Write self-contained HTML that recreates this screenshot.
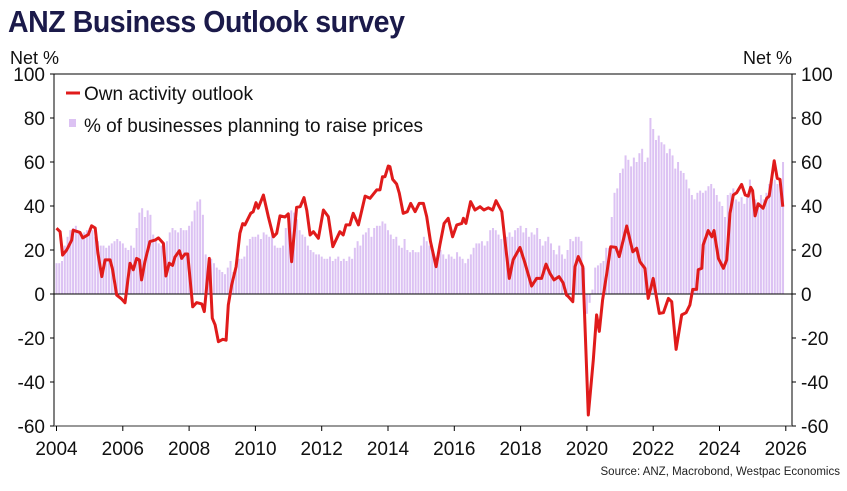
<!DOCTYPE html>
<html><head><meta charset="utf-8">
<style>
body{margin:0;background:#fff;width:847px;height:491px;overflow:hidden;font-family:"Liberation Sans",sans-serif}
#title{position:absolute;left:8px;top:4px;font-family:"Liberation Sans Narrow","Liberation Sans",sans-serif;font-weight:bold;font-size:31px;color:#1b1a4a;letter-spacing:-0.5px;transform:scaleX(0.92);transform-origin:left}
</style></head>
<body>
<div id="title">ANZ Business Outlook survey</div>
<svg id="chart" width="847" height="491" style="position:absolute;left:0;top:0"></svg>
<script>
const yTicks=[100,80,60,40,20,0,-20,-40,-60];
const xTickYears=[2004,2006,2008,2010,2012,2014,2016,2018,2020,2022,2024,2026];
const priceBars=[
14,14,15,22,26,29,30,31,28,27,28,29,
30,29,26,24,22,22,21,22,23,24,25,24,
23,21,20,22,21,30,37,39,35,38,36,27,
25,23,22,23,24,28,30,29,28,30,29,29,
31,33,38,42,43,36,18,15,16,14,12,11,
10,9,12,15,10,14,16,16,17,22,25,26,
26,27,25,28,27,26,28,22,21,21,22,30,
32,38,37,34,29,27,26,22,20,19,18,18,
17,16,16,17,15,16,17,15,16,15,17,16,
21,24,22,27,28,30,26,30,31,31,33,32,
29,27,25,26,22,21,25,20,19,20,19,19,
22,26,24,22,19,17,16,20,18,16,18,17,
16,19,17,16,14,16,18,21,23,23,24,22,
24,29,30,29,27,25,29,26,28,26,29,30,
31,28,30,26,28,27,30,25,22,24,26,23,
20,18,22,18,16,20,25,24,26,26,24,12,
-9,-4,2,12,13,14,15,21,21,35,46,48,
55,57,63,61,58,62,60,64,66,60,62,80,
75,70,72,69,68,64,66,63,57,60,56,55,
52,48,45,43,46,47,46,47,49,50,48,45,
42,40,35,45,46,48,43,42,44,41,44,52,
46,43,41,45,43,46,50,51,52,50,52,60];
const lineMonths=[0,1.3,2.2,3.7,5.5,6,8.5,9.5,11.5,12.7,14,15,16.4,17.6,19.4,20.3,21.8,23.6,24.8,26.6,27.8,29,30,30.8,32,33.8,35.7,36.9,38.7,39.6,40.8,42,42.9,44.5,45.3,46.5,47.5,49.3,50.7,52.6,53.5,55.3,56.4,57.4,58.6,60.2,61.4,62.2,63.4,65,66.4,67.4,68.2,70.3,71.2,72.2,73,74.9,76.7,78.5,79.7,80.9,82.7,83.9,85.1,86.9,88.2,89.6,90.6,91.8,93,94.8,96.6,98.4,100,102.6,103.8,104.8,106.2,107.4,109.3,111.7,113.5,115.9,117.1,118,118.9,120.1,120.7,121.7,123.1,124.1,125.5,127,128.2,129.8,131.3,132.8,134,135.4,137.4,138.8,140.3,141.8,143.4,144.9,146.7,147.3,148.2,149.9,151.5,153.3,154.7,156.3,157.9,159.1,161.2,162.3,163.9,165.3,167.8,169.6,172,173.8,175.6,177.2,178.6,180.1,181.9,183.4,184.6,185.3,186.9,187.7,188.9,190.5,192.5,194.3,195.5,196.5,197.7,199.2,200.6,202.5,203.7,206.4,208.6,210,211.2,213,214.2,216,218.2,219.7,221.5,222.7,224.3,226.3,227.9,229.3,230.3,231.7,232.3,233.6,234.1,235.9,237.2,238,239.6,241.4,242.6,243.8,245,246.2,248,249.3,250.4,251.3,252,252.9,254,255.8,257.1,258,259.8,260.9,261.9,262.9];
const lineValues=[29.9,28.3,17.7,20,24.5,29,28,25.5,27,31,30,18.6,7.9,15.5,15.5,11,-0.5,-2.3,-4,14,11,16.2,15.5,6.4,14.7,23.8,24.5,25.5,23,8.2,14,13,16.8,19.7,16.2,18.2,18.2,-5.8,-3.9,-4.5,-8,16.2,-11,-14,-21.7,-20.6,-21,-5,4,12.4,27.6,32,31.4,36.7,37.4,41.5,39,45,35,26,27.6,35.5,35,36.4,14.7,39.4,39.7,43.8,38,26.8,28.3,25.3,38.2,35.2,21.5,28.3,26.8,31.4,31.4,36.7,31.4,44.5,43.5,47.3,47.3,53.3,53.3,58.2,57.9,52.1,50,45.8,36.7,37.4,41.2,37.4,41.2,41.2,35.2,23.8,12.4,22.3,32.1,34.4,26,31.4,32.1,34.4,32.1,42,38.2,39.7,38.2,39.2,38.2,42.4,37.4,24.5,7.1,15.5,21.2,14,3.6,7.1,7.1,13.6,9.4,6.4,7.9,5.1,-0.5,-1.2,-3.5,12.4,17,12.4,-55,-30,-9.5,-17,-2.7,9.4,21.5,21.2,17,30.9,19.2,20.8,14.7,11.7,-2,7.1,-8.8,-8.5,-2,-3.5,-25.2,-9.5,-8.5,-5,2.1,2.1,11,11.7,22.3,28.8,26,28.8,16.2,11.7,15.5,36.7,45,46,49.8,45,44.5,48.5,47,35.5,41,39,43.5,44.5,60.6,52.6,52.1,39.7];

const NS='http://www.w3.org/2000/svg';
const svg=document.getElementById('chart');
const L=54,R=792,T=74,B=426;
const x0=56.5, perMonth=66.3/24;
function xScale(m){return x0+m*perMonth;}
function yScale(v){return 294-v*2.2;}
function mk(tag,attrs,parent){const e=document.createElementNS(NS,tag);for(const k in attrs)e.setAttribute(k,attrs[k]);(parent||svg).appendChild(e);return e;}

// bars
const gb=mk('g',{});


priceBars.forEach((v,i)=>{
  const x=xScale(i), y0=yScale(0), y1=yScale(v);
  const r=mk('rect',{x:x-1,y:Math.min(y0,y1),width:2,height:Math.abs(y1-y0),fill:'#dcc2f3'},gb);
  
  
});
// zero line
const zl=mk('line',{x1:L,x2:R,y1:yScale(0),y2:yScale(0),stroke:'#000','stroke-width':1});


// activity line
const pts=lineMonths.map((m,i)=>xScale(m).toFixed(1)+','+yScale(lineValues[i]).toFixed(1)).join(' ');
const pl=mk('polyline',{points:pts,fill:'none',stroke:'#e01b1b','stroke-width':3,'stroke-linejoin':'round'});


// frame
const fr=mk('path',{d:`M${L},${B}V${T}H${R}V${B}`,fill:'none',stroke:'#000','stroke-width':1});


const xa=mk('line',{x1:L,x2:R,y1:B,y2:B,stroke:'#777','stroke-width':1.5});


// y ticks
yTicks.forEach(v=>{
  const y=yScale(v);
  mk('line',{x1:L-4,x2:L,y1:y,y2:y,stroke:'#000'});
  mk('line',{x1:R,x2:R+4,y1:y,y2:y,stroke:'#000'});
  const t1=mk('text',{x:L-9,y:y+7,'text-anchor':'end','font-size':19,fill:'#111'});
  t1.textContent=v;
  
  
  const t2=mk('text',{x:R+9,y:y+7,'text-anchor':'start','font-size':19,fill:'#111'});
  t2.textContent=v;
  
  
});
xTickYears.forEach(yr=>{
  const x=xScale((yr-2004)*12);
  mk('line',{x1:x,x2:x,y1:B,y2:B+5,stroke:'#000'});
  const t=mk('text',{x:x,y:B+29,'text-anchor':'middle','font-size':19,fill:'#111'});
  t.textContent=yr;
  
  
});
function txt(s,attrs,name){const t=mk('text',attrs);t.textContent=s;return t;}
txt('Net %',{x:10,y:64,'font-size':18,fill:'#111'},'left-axis-title');
txt('Net %',{x:792,y:64,'font-size':18,fill:'#111','text-anchor':'end'},'right-axis-title');
// legend
const lg=mk('g',{});


mk('line',{x1:66,x2:80,y1:93,y2:93,stroke:'#e01b1b','stroke-width':3},lg);
txt('Own activity outlook',{x:84,y:100,'font-size':19,fill:'#111'},'legend-own-activity');
mk('rect',{x:69,y:119,width:7,height:8,fill:'#dcc2f3'},lg);
txt('% of businesses planning to raise prices',{x:84,y:132,'font-size':19,fill:'#111'},'legend-raise-prices');
txt('Source: ANZ, Macrobond, Westpac Economics',{x:840,y:475,'font-size':11.5,fill:'#222','text-anchor':'end','font-family':'"Liberation Sans Narrow","Liberation Sans",sans-serif'},'source-note');
</script>
</body></html>
